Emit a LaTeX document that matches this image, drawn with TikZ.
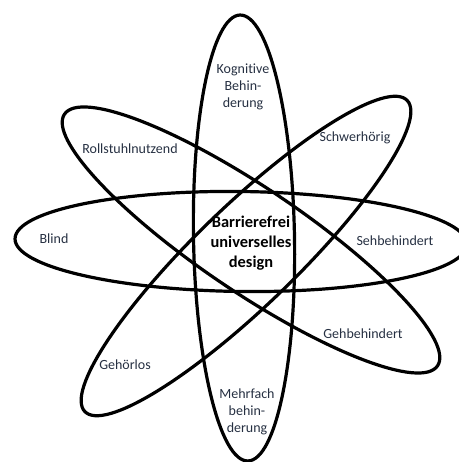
\documentclass[tikz,border=0pt]{standalone}
\usepackage{fontspec}
\setmainfont{Carlito}[Ligatures=NoCommon]
\definecolor{txt}{RGB}{38,48,66}
\begin{document}
\begin{tikzpicture}[x=1pt,y=1pt,
  orb/.style={draw=black, line width=3.2pt},
  lbl/.style={text=txt, font=\fontsize{14}{17}\selectfont, align=center, inner sep=0pt},
  mid/.style={text=black, font=\bfseries\fontsize{16.4}{20}\selectfont, align=center, inner sep=0pt}]
\useasboundingbox (0,0) rectangle (458,462);
% vertical
\draw[orb, rotate around={1:(244,224)}] (244,224) ellipse [x radius=50.5, y radius=223];
% horizontal
\draw[orb, rotate around={-0.7:(241,220.5)}] (241,220.5) ellipse [x radius=226, y radius=50];
% diagonal Rollstuhl - Gehbehindert
\draw[orb, rotate around={-34:(251,222)}] (251,222) ellipse [x radius=225, y radius=52];
% diagonal Schwerhoerig - Gehoerlos
\draw[orb, rotate around={44:(246,206)}] (246,206) ellipse [x radius=224, y radius=50];
\node[lbl] (kog) at (243,375) {Kognitive\\Behin-\\derung};
\node[lbl] (roll) at (130,313) {Rollstuhlnutzend};
\node[lbl] (schw) at (355,324) {Schwerhörig};
\node[lbl] (blind) at (54,223) {Blind};
\node[mid] (center) at (251,219) {Barrierefrei\\universelles\\design};
\node[lbl] (seh) at (395,221) {Sehbehindert};
\node[lbl] (geh) at (363,128) {Gehbehindert};
\node[lbl] (gehl) at (125,97) {Gehörlos};
\node[lbl] (mehr) at (247,50) {Mehrfach\\behin-\\derung};
\end{tikzpicture}
\end{document}
